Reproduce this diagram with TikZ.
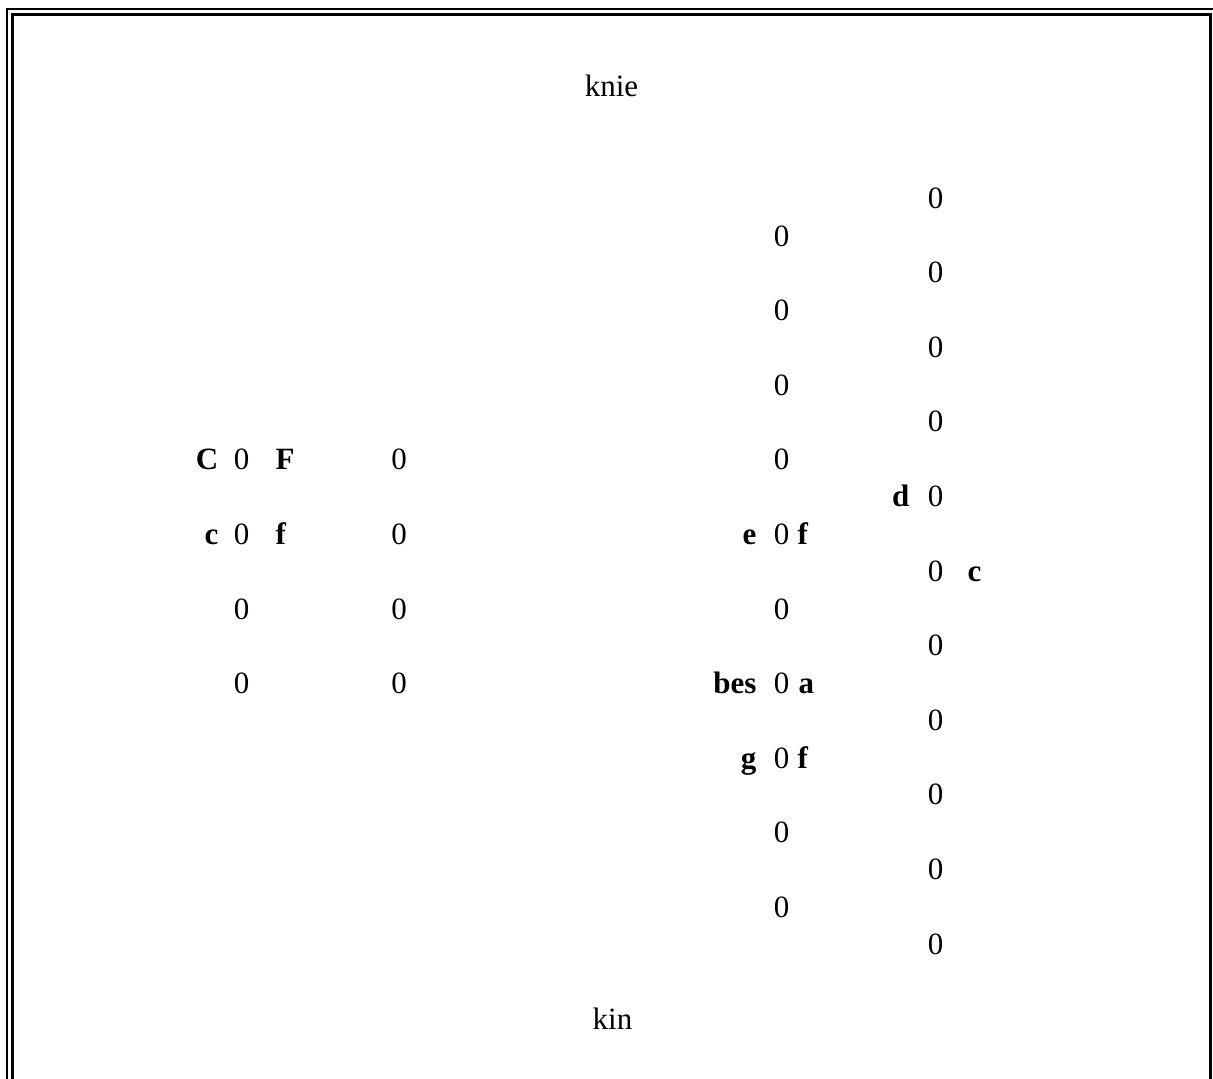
\documentclass[tikz,border=0pt]{standalone}
\usepackage{fontspec}
\setmainfont{Liberation Serif}
\usetikzlibrary{positioning}
\tikzset{
  txt/.style={inner sep=0pt, text height=22pt, text depth=7pt, font=\fontsize{31}{36}\selectfont},
  num/.style={txt, anchor=base},
  note/.style={txt, font=\fontsize{31}{36}\selectfont\bfseries},
  frame/.style={line width=2.8pt},
}
\begin{document}
\begin{tikzpicture}[x=1pt,y=-1pt]
\useasboundingbox (0,0) rectangle (1213,1079);
% frame
\coordinate (o1) at (1213,9);
\coordinate (o2) at (7,1079);
\coordinate (i1) at (12.5,1079);
\coordinate (i2) at (1210.5,1079);
\draw[frame] (o1) -- (7,9) -- (o2);
\draw[frame] (i1) -- (12.5,14.5) -- (1210.5,14.5) -- (i2);

\node[num] (top) at (611.5,96.5) {knie};
\node[num] (bottom) at (612.5,1029) {kin};

% left block
\foreach \k in {1,...,4} {
  \node[num] (a\k) at (241.5,{469.8+74.6*(\k-1)}) {0};
  \node[num] (b\k) at (399,{469.8+74.6*(\k-1)}) {0};
}
\node[note, left=15pt of a1] (C) {C};
\node[note, right=26pt of a1] (F) {F};
\node[note, left=15pt of a2] (cl) {c};
\node[note, right=26pt of a2] (fl) {f};

% middle column
\foreach \k in {1,...,10}
  \node[num] (m\k) at (781.5,{246+74.6*(\k-1)}) {0};
\node[note, left=17pt of m5] (e) {e};
\node[note, right=8pt of m5] (fm) {f};
\node[note, left=17pt of m7] (bes) {bes};
\node[note, right=9pt of m7] (a) {a};
\node[note, left=17pt of m8] (g) {g};
\node[note, right=8pt of m8] (fg) {f};

% right column
\foreach \k in {1,...,11}
  \node[num] (r\k) at (935.5,{208+74.6*(\k-1)}) {0};
\node[note, left=18pt of r5] (d) {d};
\node[note, right=24pt of r6] (cr) {c};
\end{tikzpicture}
\end{document}
